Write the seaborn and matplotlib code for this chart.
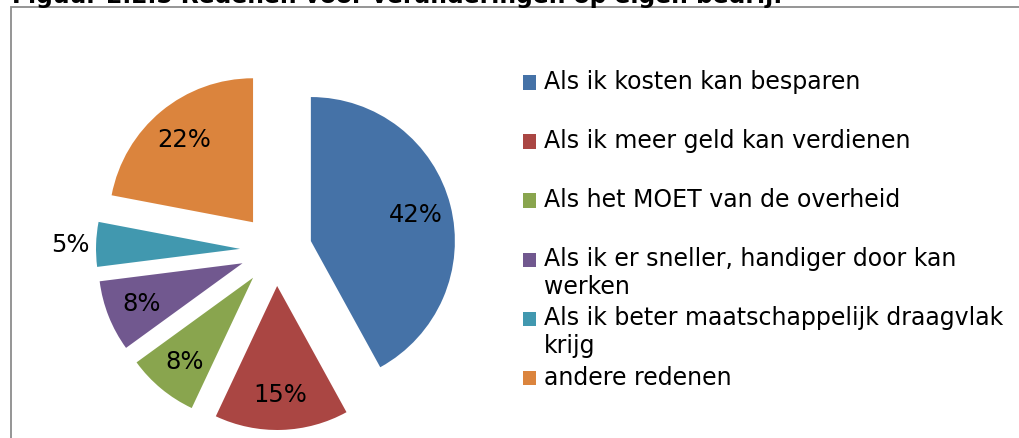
#!/usr/bin/env python3

import numpy as np
import matplotlib
matplotlib.use('Agg')
import matplotlib.pyplot as plt
from matplotlib.patches import Rectangle
import seaborn as sns

sns.set_theme(style='white')
plt.rcParams['font.family'] = ['DejaVu Sans']

title = 'Figuur 2.2.5 Redenen voor veranderingen op eigen bedrijf'
labels = [
    'Als ik kosten kan besparen',
    'Als ik meer geld kan verdienen',
    'Als het MOET van de overheid',
    'Als ik er sneller, handiger door kan\nwerken',
    'Als ik beter maatschappelijk draagvlak\nkrijg',
    'andere redenen',
]
shares = [42, 15, 8, 8, 5, 22]
colors = ['#4572A7', '#AA4643', '#89A54E', '#71588F', '#4198AF', '#DB843D']


def main():
    W, H = 1020, 439
    fig = plt.figure(figsize=(W / 100, H / 100), dpi=100)
    fig.patch.set_facecolor('white')

    # grey chart frame, cut off at right and bottom like the screenshot
    fig.patches.append(Rectangle((11 / W, -0.05), 1.2, 1 - 7.5 / H + 0.05,
                                 transform=fig.transFigure, fill=False,
                                 edgecolor='#8c8c8c', linewidth=1.3))
    # title only half visible at the top edge, as in the source page
    fig.text(12 / W, 1 - 3 / H, title, fontsize=16.8, fontweight='bold',
             va='baseline', ha='left', color='black')

    # pie: radius 144 px, centre at (276, 251) px
    cx, cy, r = 276, 251, 144
    half = 1.5 * r
    ax = fig.add_axes([(cx - half) / W, (H - cy - half) / H, 2 * half / W, 2 * half / H])
    pal = sns.color_palette(colors)
    wedges, texts, autotexts = ax.pie(
        shares, colors=pal, startangle=90, counterclock=False,
        explode=[0.25] * len(shares), autopct='%d%%', pctdistance=0.75,
        wedgeprops=dict(linewidth=0), textprops=dict(fontsize=17.5, color='black'))
    ax.set_xlim(-1.5, 1.5)
    ax.set_ylim(-1.5, 1.5)
    ax.set_aspect('equal')

    # the 5% label sits outside its slice
    w = wedges[4]
    th = np.deg2rad((w.theta1 + w.theta2) / 2)
    autotexts[4].set_position((w.center[0] + 1.18 * np.cos(th),
                               w.center[1] + 1.18 * np.sin(th)))

    # every legend entry gets two lines so the rows are evenly spaced
    leg_labels = [l if '\n' in l else l + '\n' for l in labels]
    leg = fig.legend(wedges, leg_labels, loc='upper left',
                     bbox_to_anchor=(523 / W, 1 - 70 / H), frameon=False,
                     fontsize=17, handlelength=0.57, handleheight=0.57,
                     handletextpad=0.3, labelspacing=0.31, borderpad=0,
                     borderaxespad=0, labelcolor='black')
    # move the squares up to the first text line
    for p in leg.get_patches():
        p.set_y(p.get_y() + 9.8)

    fig.savefig('out.png', dpi=100)


if __name__ == '__main__':
    main()
